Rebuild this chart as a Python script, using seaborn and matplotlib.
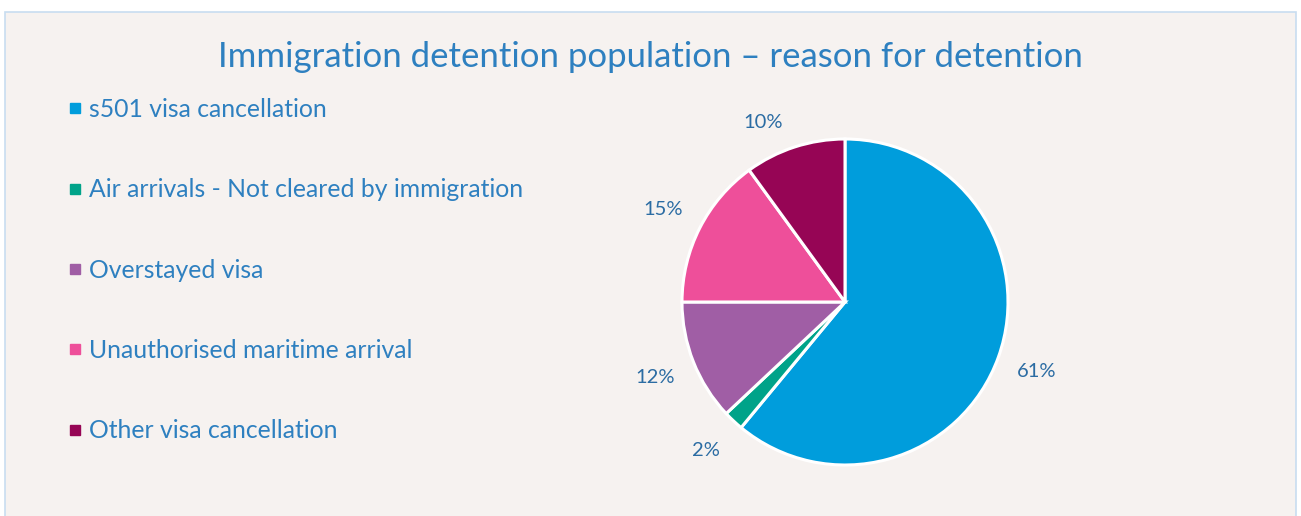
import matplotlib
matplotlib.use("Agg")
import matplotlib.pyplot as plt
import numpy as np
import seaborn as sns
from matplotlib.lines import Line2D
from matplotlib.patches import Rectangle

categories = [
    "s501 visa cancellation",
    "Air arrivals - Not cleared by immigration",
    "Overstayed visa",
    "Unauthorised maritime arrival",
    "Other visa cancellation",
]
values = [61, 2, 12, 15, 10]
colors = ["#009DDC", "#00A389", "#A05EA5", "#EE4F9A", "#960555"]
title = "Immigration detention population \u2013 reason for detention"

BG = "#F6F2F0"
TEXT = "#2E80C0"
PCT = "#2B6CA3"

sns.set_theme(style="white")
plt.rcParams["font.family"] = ["Lato", "DejaVu Sans"]

fig = plt.figure(figsize=(13.01, 5.16), dpi=100)
fig.patch.set_facecolor("white")
# chart area with light blue border
bg = Rectangle((5 / 1301, -0.01), 1291 / 1301, 1 - 12 / 516 + 0.01,
               transform=fig.transFigure, facecolor=BG,
               edgecolor="#C8DDF0", linewidth=1.2, zorder=-5)
fig.patches.append(bg)

fig.text(650 / 1301, 1 - 57 / 516, title, ha="center", va="center",
         fontsize=25, color=TEXT)

ax = fig.add_axes([(845 - 163) / 1301, (516 - 302 - 163) / 516, 326 / 1301, 326 / 516])
ax.set_zorder(2)
ax.set_facecolor("none")
wedges, texts, autotexts = ax.pie(
    values, colors=colors, startangle=90, counterclock=False,
    autopct=lambda p: f"{p:.0f}%", pctdistance=1.25,
    wedgeprops=dict(edgecolor="white", linewidth=2.2),
    textprops=dict(color=PCT, fontsize=14.5),
)
# small label nudged like the original's best-fit placement
ang = np.deg2rad(114.6)
autotexts[4].set_position((1.21 * np.cos(ang), 1.21 * np.sin(ang)))
ax.set_xlim(-1, 1)
ax.set_ylim(-1, 1)
ax.set_aspect("equal")
ax.axis("off")

handles = [Line2D([], [], marker="s", linestyle="none", markersize=7,
                  markerfacecolor=c, markeredgecolor=c) for c in colors]
leg = fig.legend(handles, categories, loc="upper left",
                 bbox_to_anchor=(58 / 1301, 1 - 88 / 516), frameon=False,
                 fontsize=17.8, labelspacing=2.32, handlelength=0.55,
                 handletextpad=0.3, borderaxespad=0)
leg.set_zorder(3)
for t in leg.get_texts():
    t.set_color(TEXT)

fig.savefig("out.png", dpi=100, facecolor=fig.get_facecolor())
